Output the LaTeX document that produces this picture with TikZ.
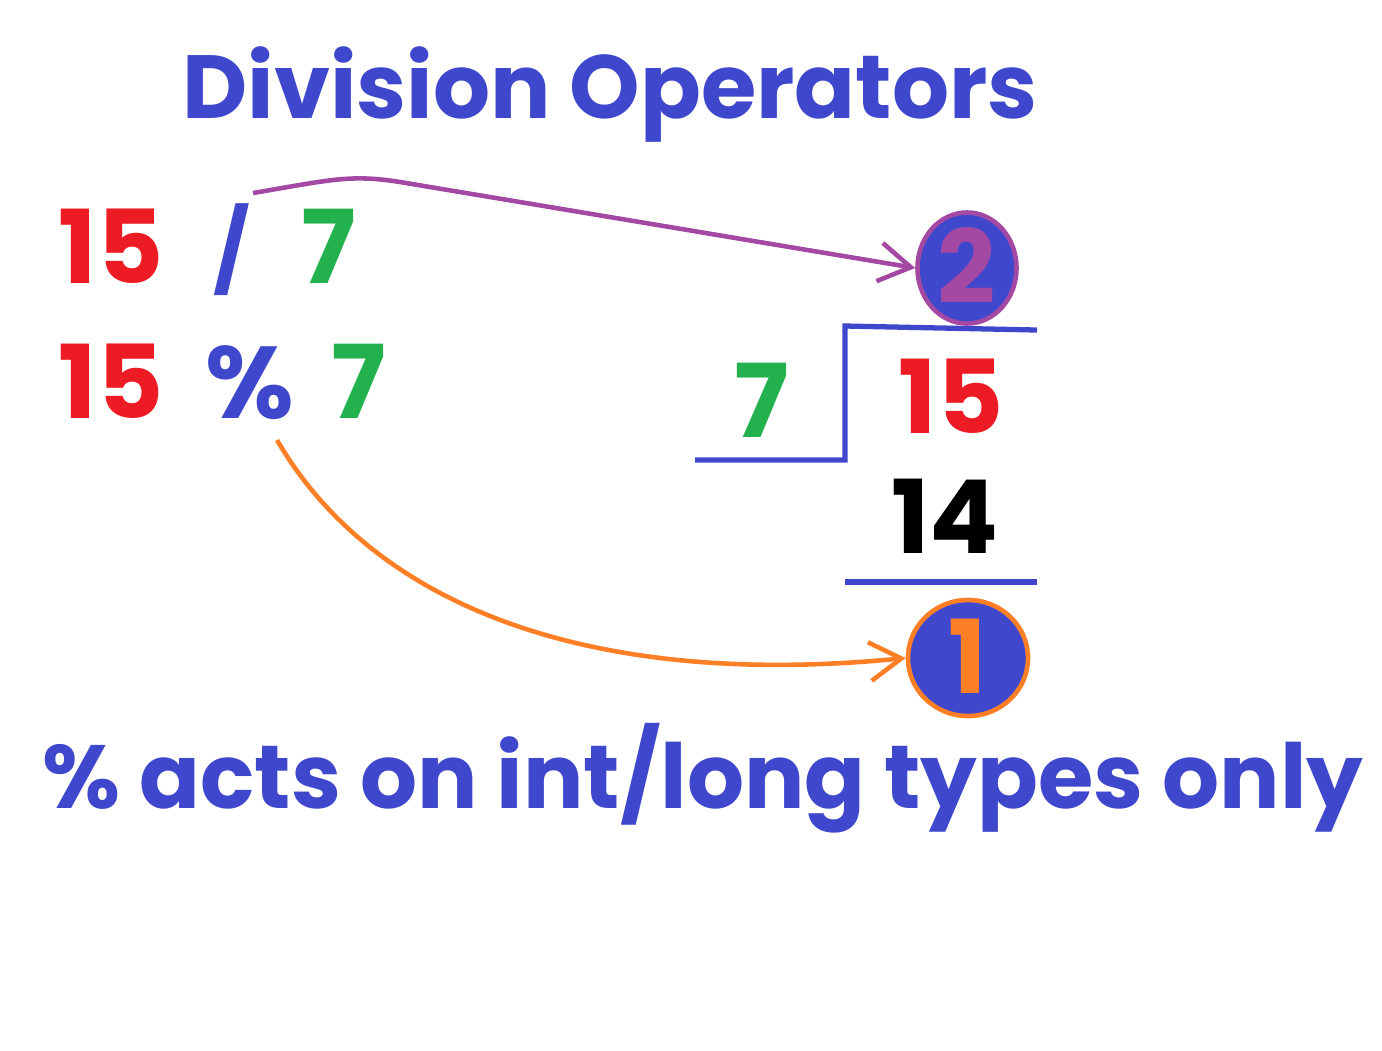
\documentclass[tikz,border=0pt]{standalone}
\usepackage{fontspec}
\setmainfont{Poppins}
\usepackage{tikz}
\usetikzlibrary{arrows.meta, shapes.geometric, positioning}

\definecolor{penblue}{RGB}{63,72,204}
\definecolor{penred}{RGB}{237,28,36}
\definecolor{pengreen}{RGB}{34,177,76}
\definecolor{penorange}{RGB}{255,127,39}
\definecolor{penpurple}{RGB}{163,73,164}

\tikzset{
  big/.style={font=\fontsize{29}{34}\selectfont\bfseries, inner sep=0pt, anchor=base},
  ring/.style={ellipse, fill=penblue, line width=1.3pt, inner sep=0pt},
  pen/.style={line width=1.5pt, draw=penblue},
  tip/.style={-{Straight Barb[length=9pt, width=11pt, line width=1.3pt]}, line width=1.3pt}
}

\begin{document}
\begin{tikzpicture}[x=0.01cm, y=-0.01cm]
\useasboundingbox (0,0) rectangle (1382,1050);

% heading
\node[big, penblue, font=\fontsize{25.5}{30}\selectfont\bfseries] (title) at (610,118) {Division Operators};

% the two expressions
\node[big, penred] (aa) at (111,283) {15};
\node[big, penblue, font=\fontsize{23}{28}\selectfont\bfseries] (slash) at (232,280) {/};
\node[big, pengreen] (ab) at (329,283) {7};
\node[big, penred] (ba) at (111,418) {15};
\node[big, penblue] (pct) at (250,418) {\%};
\node[big, pengreen] (bb) at (359,418) {7};

% long division
\node[big, pengreen] (divisor) at (762,437) {7};
\node[big, penred] (dividend) at (951,433) {15};
\node[big, black] (sub) at (945,553) {14};
\draw[pen] (695,460) -- (845,460) -- (845,326) -- (1037,330);
\draw[pen] (845,582) -- (1037,582);

\node[ring, draw=penpurple, minimum width=0.99cm, minimum height=1.11cm] (quot) at (967,268) {};
\node[big, penpurple] at (quot.center) [yshift=-10pt] {2};
\node[ring, draw=penorange, minimum width=1.2cm, minimum height=1.16cm] (rem) at (968,658) {};
\node[big, penorange] at (rem.center) [yshift=-10pt] {1};

% arrows
\coordinate (s1) at (253,193);
\coordinate (s2) at (277,440);
\draw[tip, penpurple] (s1) .. controls (330,180) and (350,174) .. (400,182) -- (quot.west);
\draw[tip, penorange] (s2) .. controls (370,600) and (580,690) .. (rem.west);

% footnote
\node[big, penblue, font=\fontsize{25.5}{30}\selectfont\bfseries] (note) at (703,808) {\% acts on int/long types only};
\end{tikzpicture}
\end{document}
